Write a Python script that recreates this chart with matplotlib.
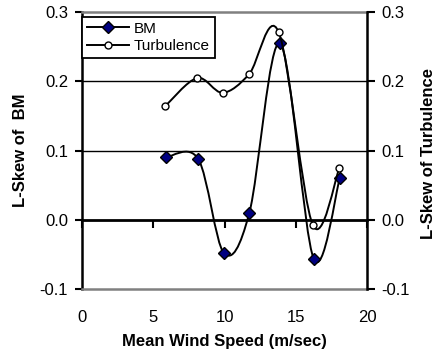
import matplotlib
matplotlib.use("Agg")
import matplotlib.pyplot as plt
import numpy as np
from matplotlib.path import Path
from matplotlib.patches import PathPatch
from matplotlib.lines import Line2D

plt.rcParams['font.family'] = ['Liberation Sans', 'DejaVu Sans']

# L-skew values against mean wind speed
bm_speed = [5.87, 8.16, 9.96, 11.74, 13.9, 16.26, 18.1]
bm_lskew = [0.090, 0.0876, -0.048, 0.0097, 0.2546, -0.0563, 0.061]

turb_speed = [5.82, 8.07, 9.87, 11.72, 13.8, 16.19, 18.06]
turb_lskew = [0.1636, 0.2046, 0.1834, 0.210, 0.271, -0.0072, 0.0746]

x_ticks = [0, 5, 10, 15, 20]
y_ticks = [-0.1, 0.0, 0.1, 0.2, 0.3]


def smooth_path(x, y):
    # spreadsheet-style smoothed line: cubic Bezier segments through the points
    pts = np.column_stack([x, y])
    n = len(pts)
    verts = [pts[0]]
    codes = [Path.MOVETO]
    for i in range(n - 1):
        p0 = pts[max(i - 1, 0)]
        p1 = pts[i]
        p2 = pts[i + 1]
        p3 = pts[min(i + 2, n - 1)]
        verts += [p1 + (p2 - p0) / 6, p2 - (p3 - p1) / 6, p2]
        codes += [Path.CURVE4] * 3
    return Path(verts, codes)


fig = plt.figure(figsize=(4.4, 3.58), dpi=100)
ax = fig.add_axes([0.1864, 0.1927, 0.6477, 0.7738])
ax2 = ax.twinx()

for a in (ax, ax2):
    a.set_xlim(0, 20)
    a.set_ylim(-0.1, 0.3)
    a.set_yticks(y_ticks)
    a.set_yticklabels([f"{v:.1f}" for v in y_ticks])
    a.patch.set_visible(False)

ax.set_xticks(x_ticks)
ax.tick_params(axis='x', length=0, pad=15, labelsize=12)
ax.tick_params(axis='y', direction='out', length=5, width=1.5, pad=5, labelsize=12)
ax2.tick_params(axis='y', direction='out', length=6, width=1.5, pad=4, labelsize=12)

# plot area border and axis lines
for side in ('top', 'bottom'):
    ax.spines[side].set_color('#808080')
    ax.spines[side].set_linewidth(1.8)
ax.spines['right'].set_visible(False)
ax.spines['left'].set_linewidth(1.8)
for side in ('top', 'bottom', 'left'):
    ax2.spines[side].set_visible(False)
ax2.spines['right'].set_linewidth(1.8)

for v in (0.1, 0.2):
    ax.axhline(v, color='black', lw=1.0, zorder=1)

# x axis crosses at zero with ticks below
zero_frac = (0 - y_ticks[0]) / (y_ticks[-1] - y_ticks[0])
sec = ax.secondary_xaxis(zero_frac)
sec.set_xticks(x_ticks)
sec.tick_params(axis='x', direction='out', length=6, width=1.5, labelbottom=False, labeltop=False)
sec.spines['bottom'].set_linewidth(2.0)
sec.spines['top'].set_linewidth(2.0)

ax.add_patch(PathPatch(smooth_path(bm_speed, bm_lskew), fill=False,
                       edgecolor='black', lw=1.4, zorder=3))
ax.plot(bm_speed, bm_lskew, ls='none', marker='D', ms=6,
        mfc='#000080', mec='black', mew=1.0, zorder=4)

ax2.add_patch(PathPatch(smooth_path(turb_speed, turb_lskew), fill=False,
                        edgecolor='black', lw=1.4, zorder=3))
ax2.plot(turb_speed, turb_lskew, ls='none', marker='o', ms=5,
         mfc='white', mec='black', mew=1.0, zorder=4)

ax.set_xlabel("Mean Wind Speed (m/sec)", fontsize=12, fontweight='bold')
ax.xaxis.set_label_coords(0.5, -0.19)
ax.xaxis.label.set_va('center')
ax.set_ylabel("L-Skew of  BM", fontsize=12, fontweight='bold', va='center')
ax.yaxis.set_label_coords(-0.2175, 0.5)
ax2.set_ylabel("L-Skew of Turbulence", fontsize=12, fontweight='bold',
               rotation=90, va='center')
ax2.yaxis.set_label_coords(1.2175, 0.49)

handles = [
    Line2D([], [], color='black', lw=1.4, marker='D', ms=6,
           mfc='#000080', mec='black'),
    Line2D([], [], color='black', lw=1.4, marker='o', ms=5,
           mfc='white', mec='black'),
]
leg = ax2.legend(handles, ["BM", "Turbulence"], loc='upper left',
                 bbox_to_anchor=(0.0, 0.982), borderaxespad=0, fontsize=11,
                 handlelength=2.8, handletextpad=0.3, borderpad=0.3,
                 labelspacing=0.25, fancybox=False, framealpha=1)
leg.get_frame().set_edgecolor('black')
leg.get_frame().set_linewidth(1.3)

fig.savefig("out.png", dpi=100)
